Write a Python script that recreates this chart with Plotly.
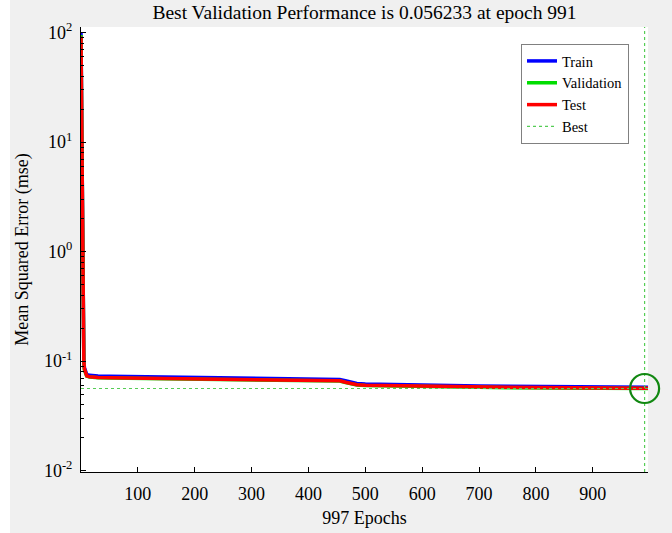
import plotly.graph_objects as go

# ---- data ----
epochs = [0, 1, 2, 3, 4, 5, 6, 8, 10, 15, 20, 30, 50, 100, 150, 200, 250, 300,
          350, 400, 440, 455, 465, 475, 485, 500, 550, 600, 650, 700, 750, 800,
          850, 900, 950, 991, 997]
train_mse = [100, 22, 2.8, 0.45, 0.16, 0.104, 0.0875, 0.0795, 0.0758, 0.0742, 0.0736,
             0.0732, 0.0728, 0.0723, 0.0718, 0.0712, 0.0706, 0.07, 0.0695, 0.069,
             0.0686, 0.0681, 0.0663, 0.064, 0.0626, 0.0618, 0.061, 0.0604, 0.0599,
             0.0594, 0.059, 0.0586, 0.0583, 0.058, 0.0578, 0.0577, 0.0577]
val_mse = [95, 20, 2.4, 0.39, 0.145, 0.098, 0.083, 0.076, 0.073, 0.0715, 0.071,
           0.0706, 0.0702, 0.0697, 0.0692, 0.0686, 0.0681, 0.0676, 0.0671, 0.0666,
           0.0662, 0.0657, 0.0638, 0.0617, 0.0605, 0.0598, 0.059, 0.0585, 0.0581,
           0.0577, 0.0573, 0.057, 0.0567, 0.0565, 0.0564, 0.056233, 0.05624]
test_mse = [92, 20, 2.5, 0.4, 0.15, 0.1, 0.085, 0.077, 0.0735, 0.072, 0.0713,
            0.071, 0.0706, 0.0701, 0.0696, 0.069, 0.0685, 0.068, 0.0675, 0.067,
            0.0666, 0.0661, 0.0642, 0.062, 0.0608, 0.0601, 0.0594, 0.0589, 0.0585,
            0.0581, 0.0577, 0.0574, 0.0571, 0.0569, 0.0568, 0.0567, 0.0567]
best_epoch = 991
best_perf = 0.056233
n_epochs = 997

y_tickvals = [0.01, 0.1, 1, 10, 100]
y_ticktext = ["10<sup>-2</sup>", "10<sup>-1</sup>", "10<sup>0</sup>",
              "10<sup>1</sup>", "10<sup>2</sup>"]
x_tickvals = [100, 200, 300, 400, 500, 600, 700, 800, 900]

y_range_log = [-2.012, 2.05]
x_range = [0, n_epochs]

FONT = "Liberation Serif, Times New Roman, serif"

fig = go.Figure()
fig.add_trace(go.Scatter(x=epochs, y=train_mse, mode="lines", name="Train",
                         line=dict(color="#0000ff", width=3.5)))
fig.add_trace(go.Scatter(x=epochs, y=val_mse, mode="lines", name="Validation",
                         line=dict(color="#00dd00", width=3.5)))
fig.add_trace(go.Scatter(x=epochs, y=test_mse, mode="lines", name="Test",
                         line=dict(color="#ff0000", width=3.5)))
ymin, ymax = 10 ** y_range_log[0], 10 ** y_range_log[1]
fig.add_trace(go.Scatter(
    x=[x_range[0], x_range[1], None, best_epoch, best_epoch],
    y=[best_perf, best_perf, None, ymin, ymax],
    mode="lines", name="Best",
    line=dict(color="#55cc55", width=1.2, dash="dot")))
fig.add_trace(go.Scatter(x=[best_epoch], y=[best_perf], mode="markers",
                         showlegend=False, cliponaxis=False,
                         marker=dict(symbol="circle-open", size=29,
                                     color="#118811",
                                     line=dict(width=2.2, color="#118811"))))

# white strip on the far left of the picture
fig.add_shape(type="rect", xref="paper", yref="paper",
              x0=-0.1429, x1=-0.1252, y0=-0.14, y1=1.07,
              fillcolor="white", line=dict(width=0), layer="below")

fig.update_layout(
    width=672, height=533,
    margin=dict(l=81, r=24, t=27, b=61, autoexpand=False),
    paper_bgcolor="#f0f0f0", plot_bgcolor="white",
    font=dict(family=FONT, color="black", size=17),
    title=dict(text="Best Validation Performance is 0.056233 at epoch 991",
               x=0.5, xref="paper", xanchor="center",
               y=1 - 12 / 533, yanchor="middle",
               font=dict(family=FONT, size=19.5, color="black")),
    legend=dict(x=0.9665, y=0.9618, xanchor="right", yanchor="top",
                bgcolor="white", bordercolor="#808080", borderwidth=1,
                font=dict(family=FONT, size=14.5, color="black"),
                tracegroupgap=0),
    showlegend=True,
)
fig.update_xaxes(range=x_range, tickmode="array", tickvals=x_tickvals,
                 ticks="inside", ticklen=5, tickcolor="black",
                 tickfont=dict(family=FONT, size=18),
                 showline=True, linecolor="black", linewidth=1, mirror=False,
                 showgrid=False, zeroline=False, ticklabelstandoff=5,
                 automargin=False,
                 title=dict(text="997 Epochs", standoff=8,
                            font=dict(family=FONT, size=18)))
fig.update_yaxes(type="log", range=y_range_log, tickmode="array",
                 tickvals=y_tickvals, ticktext=y_ticktext,
                 ticks="inside", ticklen=5, tickcolor="black",
                 tickfont=dict(family=FONT, size=18),
                 showline=True, linecolor="black", linewidth=1, mirror=False,
                 showgrid=False, zeroline=False, ticklabelstandoff=4,
                 automargin=False,
                 minor=dict(ticks="inside", ticklen=3, tickcolor="black",
                            dtick="D1", showgrid=False),
                 title=dict(text="Mean Squared Error (mse)", standoff=10,
                            font=dict(family=FONT, size=18)))

fig.write_html("out.html")
